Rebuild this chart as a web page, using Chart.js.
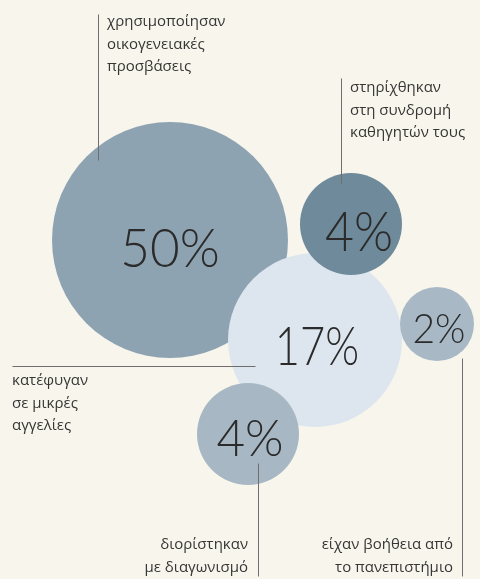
<!DOCTYPE html>
<html>
<head>
<meta charset="utf-8">
<script src="https://cdn.jsdelivr.net/npm/chart.js@4"></script>
<style>
  html, body { margin: 0; padding: 0; background: #f8f6ec; }
  #wrap { width: 480px; height: 579px; position: relative; }
</style>
</head>
<body>
<div id="wrap"><canvas id="bubbles"></canvas></div>
<script>
// shares (percent) and what each group did
const labels = [
  "χρησιμοποίησαν οικογενειακές προσβάσεις",
  "κατέφυγαν σε μικρές αγγελίες",
  "είχαν βοήθεια από το πανεπιστήμιο",
  "διορίστηκαν με διαγωνισμό",
  "στηρίχθηκαν στη συνδρομή καθηγητών τους"
];
const values = [50, 17, 2, 4, 4];

// bubble placement on the 480 x 579 board (x, y, radius)
const bubbleX = [170, 315, 437, 248, 351];
const bubbleY = [240, 340, 324, 434, 224];
const bubbleR = [118, 87, 37, 51, 51];
const colors = ["#8ea3b1", "#dde6ee", "#a8b9c5", "#a7b8c4", "#6f8a9a"];
const fontSizes = [54, 53, 41, 52, 55];
const squeeze = [0.95, 0.82, 0.95, 0.95, 0.91];
const textNudge = [[0, 10], [2, 8], [2, 6], [2, 5], [8, 9]];

// callout text lines and their leader lines
const callouts = [
  { lines: ["χρησιμοποίησαν", "οικογενειακές", "προσβάσεις"], tx: 107, ty: 22, align: "left", line: [98, 14, 98, 160] },
  { lines: ["κατέφυγαν", "σε μικρές", "αγγελίες"], tx: 12, ty: 381, align: "left", line: [12, 366, 255, 366] },
  { lines: ["είχαν βοήθεια από", "το πανεπιστήμιο"], tx: 453, ty: 545, align: "right", line: [462, 358, 462, 576] },
  { lines: ["διορίστηκαν", "με διαγωνισμό"], tx: 248, ty: 545, align: "right", line: [258, 463, 258, 576] },
  { lines: ["στηρίχθηκαν", "στη συνδρομή", "καθηγητών τους"], tx: 350, ty: 88, align: "left", line: [341, 78, 341, 183] }
];

const bubbleText = {
  id: "bubbleText",
  afterDatasetsDraw(chart) {
    const ctx = chart.ctx;
    const xs = chart.scales.x, ys = chart.scales.y;
    ctx.save();
    // leader lines + callouts
    ctx.strokeStyle = "#6e6e6e";
    ctx.lineWidth = 1;
    ctx.fillStyle = "#363636";
    ctx.font = "15px 'Open Sans', sans-serif";
    ctx.textBaseline = "middle";
    callouts.forEach(c => {
      const [x1, y1, x2, y2] = c.line;
      ctx.beginPath();
      ctx.moveTo(Math.round(xs.getPixelForValue(x1)) + 0.5, Math.round(ys.getPixelForValue(y1)) + 0.5);
      ctx.lineTo(Math.round(xs.getPixelForValue(x2)) + 0.5, Math.round(ys.getPixelForValue(y2)) + 0.5);
      ctx.stroke();
      ctx.textAlign = c.align;
      c.lines.forEach((t, i) => {
        ctx.fillText(t, xs.getPixelForValue(c.tx), ys.getPixelForValue(c.ty + i * 22.5));
      });
    });
    // percentages in the bubbles (slightly condensed)
    ctx.fillStyle = "#2b2b2b";
    ctx.textAlign = "center";
    chart.getDatasetMeta(0).data.forEach((pt, i) => {
      ctx.save();
      ctx.translate(pt.x + textNudge[i][0], pt.y + textNudge[i][1]);
      ctx.scale(squeeze[i], 1);
      ctx.font = "300 " + fontSizes[i] + "px Lato, sans-serif";
      ctx.fillText(values[i] + "%", 0, 0);
      ctx.restore();
    });
    ctx.restore();
  }
};

new Chart(document.getElementById("bubbles"), {
  type: "bubble",
  data: {
    labels: labels,
    datasets: [{
      data: values.map((v, i) => ({ x: bubbleX[i], y: bubbleY[i], r: bubbleR[i], v: v })),
      backgroundColor: colors,
      borderWidth: 0,
      hoverRadius: 0,
      clip: false
    }]
  },
  options: {
    responsive: true,
    maintainAspectRatio: false,
    animation: false,
    layout: { padding: 0, autoPadding: false },
    plugins: { legend: { display: false }, tooltip: { enabled: false } },
    scales: {
      x: { type: "linear", min: 0, max: 480, display: false },
      y: { type: "linear", min: 0, max: 579, reverse: true, display: false }
    }
  },
  plugins: [bubbleText]
});
</script>
</body>
</html>
